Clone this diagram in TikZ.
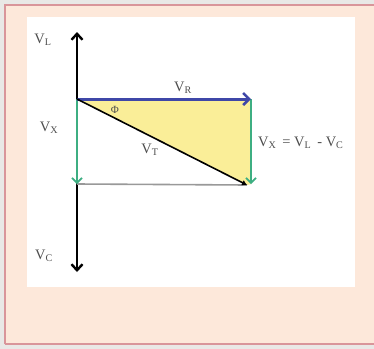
\documentclass[tikz,border=0pt]{standalone}
\usepackage{fontspec}
\setmainfont{Liberation Serif}
\usetikzlibrary{arrows.meta}

\definecolor{peach}{HTML}{FDE8DA}
\definecolor{rim}{HTML}{D9959A}
\definecolor{paper}{HTML}{E9E8E6}
\definecolor{vrblue}{HTML}{3F47A8}
\definecolor{vxgreen}{HTML}{3DAE82}
\definecolor{fillyellow}{HTML}{FAEE98}
\definecolor{labelgrey}{HTML}{4E4E4E}

\tikzset{
    lbl/.style={text=labelgrey, inner sep=0pt, font=\fontsize{14.5}{17}\selectfont},
    barb/.style={-{Straight Barb[length=6bp, width=11bp, line width=2.4bp]}}
}

\begin{document}
\begin{tikzpicture}[x=1bp, y=-1bp]
        \useasboundingbox (0,0) rectangle (374,349);
        % Frame and white panel
        \fill[paper] (0,0) rectangle (374,349);
        \fill[peach] (5,5) rectangle (374,344);
        \draw[rim, line width=2.5bp] (5,344) -- (5,5) -- (374,5);
        \draw[rim, line width=2.5bp] (5,344) -- (374,344);
        \fill[white] (27,17) rectangle (355,287);
        
        % Points of the phasor diagram
        \coordinate (O) at (77,99);
        \coordinate (R) at (251,99);
        \coordinate (T) at (247,185);
        \coordinate (L) at (77,32);
        \coordinate (C) at (77,272);
        \coordinate (X) at (77,184);
        \coordinate (RX) at (251,184);
        
        % Shaded triangle
        \fill[fillyellow] (O) -- (R) -- (RX) -- (T) -- cycle;
        
        % Vertical axis
        \draw[barb, line width=2.4bp] (O) -- (L);
        \draw[barb, line width=2.4bp] (O) -- (C);
        
        % Grey closing line
        \draw[gray!80, line width=1.6bp] (X) -- (T);
        
        % V_X arrows
        \draw[vxgreen, line width=1.8bp, -{Straight Barb[length=5bp, width=10bp, line width=1.6bp]}] (O) -- (X);
        \draw[vxgreen, line width=1.8bp, -{Straight Barb[length=5bp, width=10bp, line width=1.6bp]}] (R) -- (RX);
        
        % V_R arrow
        \draw[vrblue, line width=3bp, -{Straight Barb[length=6bp, width=12bp, line width=2.6bp]}] (O) -- (R);
        
        % V_T diagonal
        \draw[black, line width=1.6bp, -{Latex[length=5bp, width=6bp]}] (O) -- (T);
        
        % Labels
        \node[lbl] (vl) at (43,40) {V\textsubscript{L}};
        \node[lbl] (vr) at (183,88) {V\textsubscript{R}};
        \node[lbl, font=\fontsize{11}{13}\selectfont] (phi) at (115,110) {Φ};
        \node[lbl] (vx) at (49,128) {V\textsubscript{X}};
        \node[lbl] (vt) at (150,150) {V\textsubscript{T}};
        \node[lbl, anchor=west] (eq) at (258,143) {V\textsubscript{X}\, = V\textsubscript{L}\, - V\textsubscript{C}};
        \node[lbl] (vc) at (44,256) {V\textsubscript{C}};
    \end{tikzpicture}
\end{document}
